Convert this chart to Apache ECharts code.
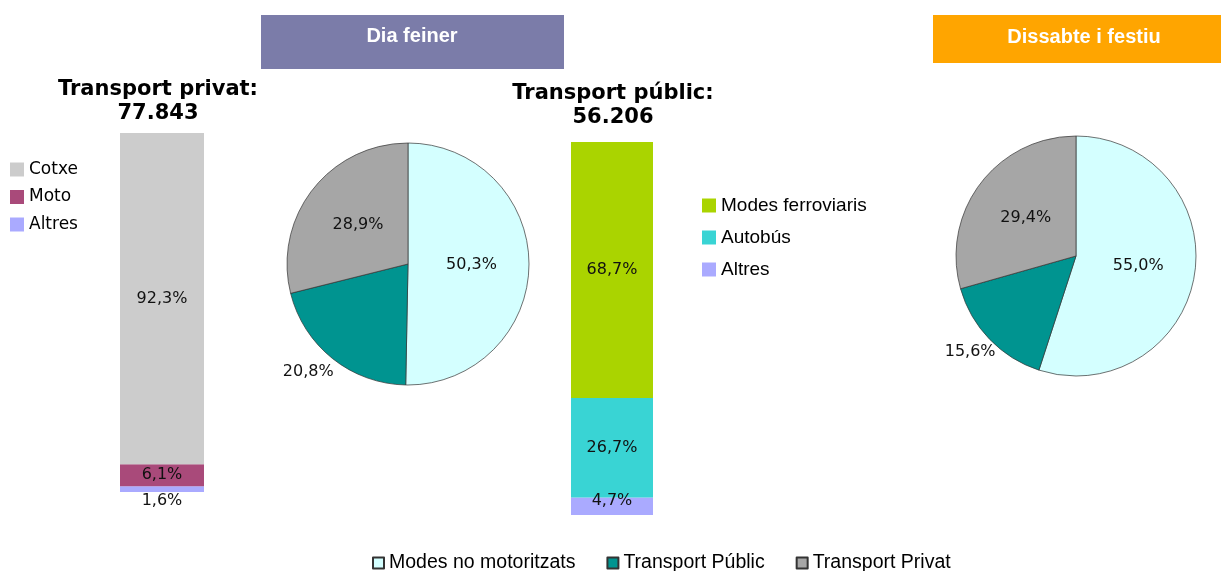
<!DOCTYPE html>
<html>
<head>
<meta charset="utf-8">
<script src="https://cdn.jsdelivr.net/npm/echarts@6/dist/echarts.min.js"></script>
<style>
  html, body { margin: 0; padding: 0; background: #fff; }
  #chart { width: 1221px; height: 571px; }
</style>
</head>
<body>
<div id="chart"></div>
<script>
// transport privat (%), bottom to top order reversed for legend
const privatNames = ['Cotxe', 'Moto', 'Altres']
const privatVals = [92.3, 6.1, 1.6]
const privatTotal = '77.843'

// transport public (%)
const publicNames = ['Modes ferroviaris', 'Autobús', 'Altres']
const publicVals = [68.7, 26.7, 4.7]
const publicTotal = '56.206'

// repartiment modal (%)
const modeNames = ['Modes no motoritzats', 'Transport Públic', 'Transport Privat']
const feinerVals = [50.3, 20.8, 28.9]
const festiuVals = [55.0, 15.6, 29.4]

const privatColors = ['#cccccc', '#a94a7a', '#aaaaff']
const publicColors = ['#aad400', '#39d4d4', '#aaaaff']
const modeColors = ['#d4ffff', '#009490', '#a6a6a6']

const verdana = 'DejaVu Sans'
const arial = 'Liberation Sans'

function pct(v) {
  return v.toFixed(1).replace('.', ',') + '%'
}

const sum = arr => arr.reduce((a, b) => a + b, 0)

const chart = echarts.init(document.getElementById('chart'))

// stacked bars, drawn bottom segment first
const barSeries = []
for (let i = privatNames.length - 1; i >= 0; i--) {
  barSeries.push({
    name: privatNames[i],
    type: 'bar',
    stack: 'privat',
    xAxisIndex: 0,
    yAxisIndex: 0,
    barWidth: 84,
    color: privatColors[i],
    data: [privatVals[i]],
    label: {
      show: true,
      position: i === 2 ? 'bottom' : 'inside',
      distance: 1,
      formatter: p => pct(p.value),
      fontFamily: verdana,
      fontSize: 16,
      color: '#111'
    }
  })
}
for (let i = publicNames.length - 1; i >= 0; i--) {
  barSeries.push({
    name: publicNames[i],
    type: 'bar',
    stack: 'public',
    xAxisIndex: 1,
    yAxisIndex: 1,
    barWidth: 82,
    color: publicColors[i],
    data: [publicVals[i]],
    label: {
      show: true,
      position: 'inside',
      offset: i === 2 ? [0, -5] : [0, 0],
      formatter: p => pct(p.value),
      fontFamily: verdana,
      fontSize: 16,
      color: '#111'
    }
  })
}

function pieSeries(vals, center, radius, outDx) {
  return {
    type: 'pie',
    center: center,
    radius: radius,
    startAngle: 90,
    clockwise: true,
    animation: false,
    itemStyle: { borderColor: '#333', borderWidth: 0.7 },
    data: vals.map((v, i) => ({
      name: modeNames[i],
      value: v,
      itemStyle: { color: modeColors[i] },
      label: { position: i === 1 ? 'outside' : 'inside' }
    })),
    label: {
      show: true,
      formatter: p => pct(p.value),
      fontFamily: verdana,
      fontSize: 16,
      color: '#111'
    },
    labelLine: { show: false, length: 0, length2: 0 },
    labelLayout: p => (p.dataIndex === 1 ? { dx: outDx, dy: 13 } : {})
  }
}

const titleFont = 'bold 21px "DejaVu Sans"'
const headFont = 'bold 20px "Liberation Sans"'

chart.setOption({
  animation: false,
  grid: [
    { left: 120, top: 133, width: 84, height: 359 },
    { left: 571, top: 142, width: 82, height: 373 }
  ],
  xAxis: [
    { type: 'category', gridIndex: 0, data: [''], show: false },
    { type: 'category', gridIndex: 1, data: [''], show: false }
  ],
  yAxis: [
    { type: 'value', gridIndex: 0, min: 0, max: sum(privatVals), show: false },
    { type: 'value', gridIndex: 1, min: 0, max: sum(publicVals), show: false }
  ],
  legend: [
    {
      data: privatNames,
      orient: 'vertical',
      left: 10,
      top: 161,
      padding: 0,
      itemWidth: 14,
      itemHeight: 14,
      itemGap: 10.5,
      icon: 'rect',
      textStyle: { fontFamily: verdana, fontSize: 17, color: '#000' }
    },
    {
      data: publicNames,
      orient: 'vertical',
      left: 702,
      top: 196,
      padding: 0,
      itemWidth: 14,
      itemHeight: 14,
      itemGap: 13,
      icon: 'rect',
      textStyle: { fontFamily: arial, fontSize: 19, color: '#000' }
    },
    {
      data: modeNames,
      orient: 'horizontal',
      left: 372,
      top: 553,
      padding: 0,
      itemWidth: 11,
      itemHeight: 11,
      itemGap: 31,
      icon: 'rect',
      textStyle: { fontFamily: arial, fontSize: 19.5, color: '#000' }
    }
  ],
  graphic: [
    { type: 'rect', shape: { x: 261, y: 15, width: 303, height: 54 }, style: { fill: '#7b7ca9' } },
    { type: 'text', x: 412, y: 36, style: { text: 'Dia feiner', fill: '#fff', font: headFont, textAlign: 'center', textVerticalAlign: 'middle' } },
    { type: 'rect', shape: { x: 933, y: 15, width: 288, height: 48 }, style: { fill: '#ffa500' } },
    { type: 'text', x: 1084, y: 37, style: { text: 'Dissabte i festiu', fill: '#fff', font: headFont, textAlign: 'center', textVerticalAlign: 'middle' } },
    { type: 'text', x: 158, y: 90, style: { text: 'Transport privat:', fill: '#000', font: titleFont, textAlign: 'center', textVerticalAlign: 'middle' } },
    { type: 'text', x: 158, y: 114, style: { text: privatTotal, fill: '#000', font: titleFont, textAlign: 'center', textVerticalAlign: 'middle' } },
    { type: 'text', x: 613, y: 94, style: { text: 'Transport públic:', fill: '#000', font: titleFont, textAlign: 'center', textVerticalAlign: 'middle' } },
    { type: 'text', x: 613, y: 118, style: { text: publicTotal, fill: '#000', font: titleFont, textAlign: 'center', textVerticalAlign: 'middle' } }
  ],
  series: barSeries.concat([
    pieSeries(feinerVals, [408, 264], 121, 6),
    pieSeries(festiuVals, [1076, 256], 120, 11)
  ])
})
</script>
</body>
</html>
